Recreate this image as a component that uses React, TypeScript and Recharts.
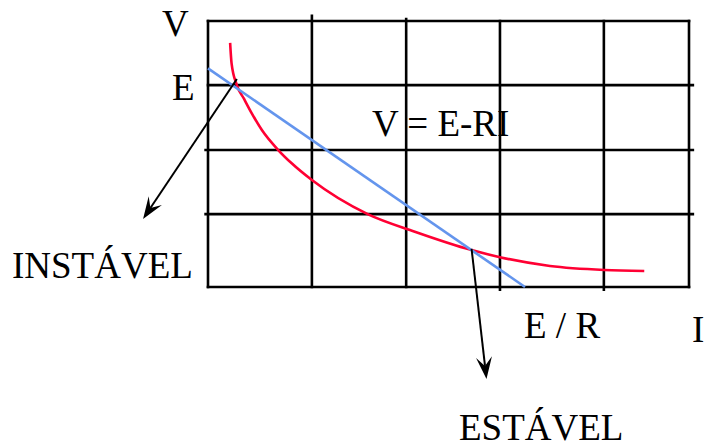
import React from 'react';
import { LineChart, Line, XAxis, YAxis, ReferenceLine } from 'recharts';

// grid positions (I axis 0..10, V axis 0..10)
const gridI = [0, 2.16, 4.12, 6.07, 8.23, 10];
const gridIFrom = [0, 0, 0, -0.1, -0.1, 0];
const gridITo = [10, 10.2, 10.07, 10, 10, 10];
const gridV = [0, 2.74, 5.15, 7.59, 10];
const gridVFrom = [0, -0.05, -0.05, 0, 0];
const gridVTo = [10, 10.08, 10.08, 10.08, 10];

// red curve (source characteristic)
const curveI = [0.46, 0.49, 0.6, 0.75, 0.91, 1.12, 1.46, 1.74, 2.16, 3.33, 4.3, 5.48, 6.07, 7.11, 8.24, 9.07];
const curveV = [9.18, 8.41, 7.59, 7.07, 6.53, 5.9, 5.15, 4.65, 4.02, 2.73, 2.08, 1.39, 1.12, 0.79, 0.64, 0.6];

// blue load line V = E - RI
const loadI = [0, 6.59];
const loadV = [8.22, 0];

// annotation arrows: [from, to] as [I, V]
const unstableArrow = [
  { x: 0.6, y: 7.82 },
  { x: -1.35, y: 2.56 },
];
const stableArrow = [
  { x: 5.48, y: 1.43 },
  { x: 5.79, y: -3.46 },
];

const curveData = curveI.map((i, k) => ({ i, v: curveV[k] }));
const loadData = loadI.map((i, k) => ({ i, v: loadV[k] }));

const FONT = '"Liberation Serif", "Times New Roman", serif';

const ArrowShape = (props: any) => {
  const { x1, y1, x2, y2 } = props;
  const dx = x2 - x1;
  const dy = y2 - y1;
  const len = Math.sqrt(dx * dx + dy * dy) || 1;
  const ux = dx / len;
  const uy = dy / len;
  const nx = -uy;
  const ny = ux;
  const L = 22;
  const W = 8;
  const bx = x2 - ux * L;
  const by = y2 - uy * L;
  const mx = x2 - ux * L * 0.6;
  const my = y2 - uy * L * 0.6;
  const pts = [
    [x2, y2],
    [bx + nx * W, by + ny * W],
    [mx, my],
    [bx - nx * W, by - ny * W],
  ]
    .map((p) => p.join(','))
    .join(' ');
  return (
    <g>
      <line x1={x1} y1={y1} x2={mx} y2={my} stroke="#000" strokeWidth={2} />
      <polygon points={pts} fill="#000" />
    </g>
  );
};

export default function App() {
  return (
    <div style={{ position: 'absolute', left: 0, top: 0, width: 714, height: 447, background: '#fff' }}>
      <LineChart
        width={714}
        height={447}
        margin={{ top: 21, right: 25, bottom: 160, left: 208 }}
      >
        <XAxis type="number" dataKey="i" domain={[0, 10]} hide />
        <YAxis type="number" dataKey="v" domain={[0, 10]} hide />

        {gridI.map((t, k) => (
          <ReferenceLine
            key={'gx' + t}
            segment={[{ x: t, y: gridIFrom[k] }, { x: t, y: gridITo[k] }]}
            stroke="#000"
            strokeWidth={2.6}
            strokeLinecap="square"
            ifOverflow="visible"
          />
        ))}
        {gridV.map((t, k) => (
          <ReferenceLine
            key={'gy' + t}
            segment={[{ x: gridVFrom[k], y: t }, { x: gridVTo[k], y: t }]}
            stroke="#000"
            strokeWidth={2.6}
            strokeLinecap="square"
            ifOverflow="visible"
          />
        ))}

        <Line
          data={curveData}
          dataKey="v"
          type="monotone"
          stroke="#ff0033"
          strokeWidth={2.6}
          dot={false}
          isAnimationActive={false}
        />
        <Line
          data={loadData}
          dataKey="v"
          type="linear"
          stroke="#6495ed"
          strokeWidth={2.6}
          dot={false}
          isAnimationActive={false}
        />

        <ReferenceLine segment={unstableArrow} ifOverflow="visible" shape={ArrowShape} />
        <ReferenceLine segment={stableArrow} ifOverflow="visible" shape={ArrowShape} />
      </LineChart>

      <svg
        width={714}
        height={447}
        style={{ position: 'absolute', left: 0, top: 0, pointerEvents: 'none' }}
      >
        <g fontFamily={FONT} fontSize={37} fill="#000">
          <text x={162} y={36}>V</text>
          <text x={172} y={100}>E</text>
          <text x={372} y={136}>V = E-RI</text>
          <text x={12} y={278}>INSTÁVEL</text>
          <text x={524} y={338}>E / R</text>
          <text x={692} y={342}>I</text>
          <text x={459} y={440}>ESTÁVEL</text>
        </g>
      </svg>
    </div>
  );
}
